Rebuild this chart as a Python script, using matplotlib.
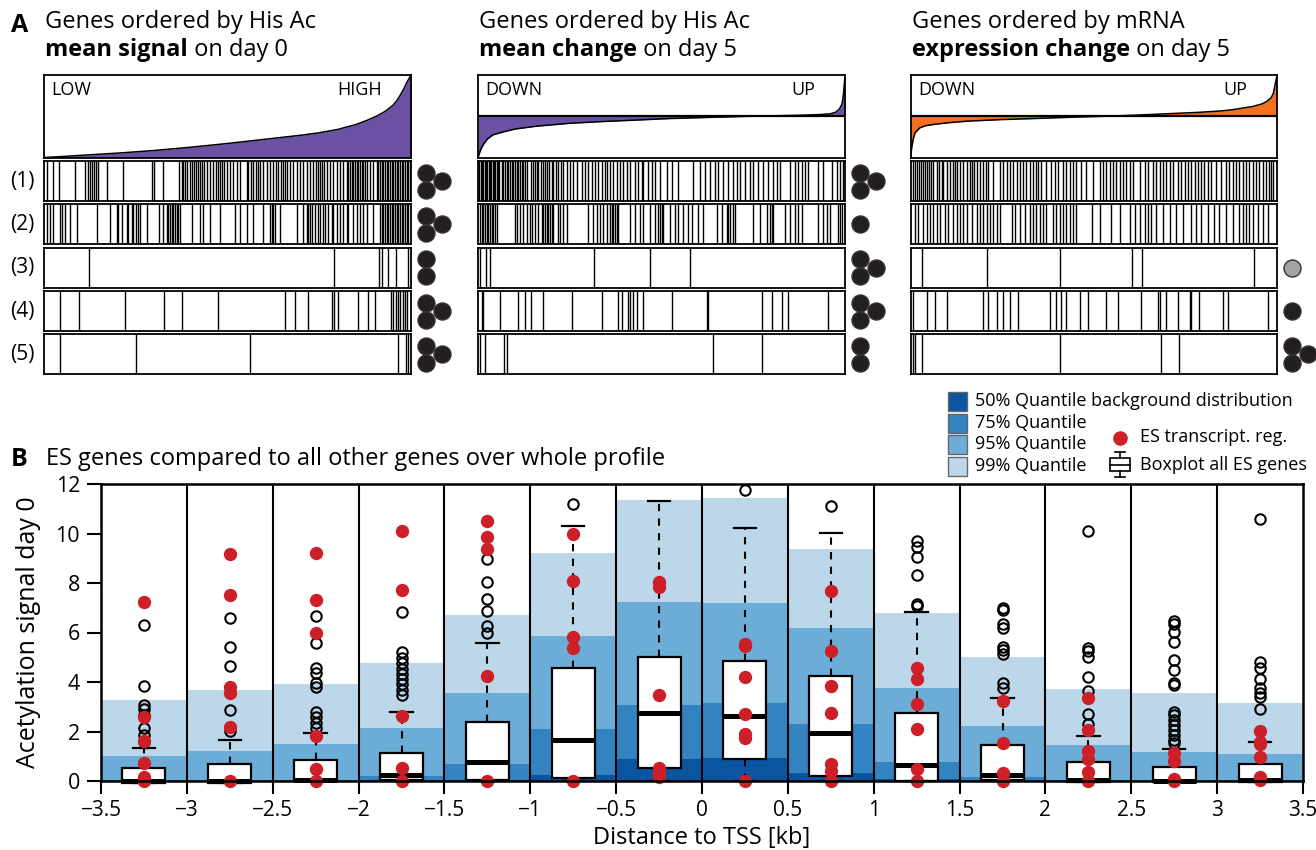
import matplotlib
matplotlib.use('Agg')
import matplotlib.pyplot as plt
from matplotlib.patches import Rectangle

W, H = 1316, 850
plt.rcParams['font.family'] = ['Open Sans', 'DejaVu Sans']

# ---------------- Panel A data ----------------
# sorted profile curves (t = rank fraction, v = normalised value)
sig_t = [0, 0.05, 0.1, 0.15, 0.2, 0.3, 0.4, 0.5, 0.6, 0.7, 0.75, 0.8, 0.85, 0.88, 0.91, 0.93, 0.95, 0.96, 0.97, 0.98, 0.99, 1.0]
sig_v = [0, 0.012, 0.026, 0.04, 0.053, 0.085, 0.125, 0.17, 0.22, 0.27, 0.30, 0.34, 0.4, 0.45, 0.51, 0.56, 0.63, 0.68, 0.75, 0.83, 0.92, 1.0]
chg_t = [0, 0.003, 0.007, 0.014, 0.025, 0.04, 0.068, 0.1, 0.159, 0.25, 0.34, 0.45, 0.52, 0.62, 0.72, 0.8, 0.88, 0.93, 0.96, 0.975, 0.985, 0.992, 0.996, 1.0]
chg_v = [-0.98, -0.9, -0.8, -0.68, -0.55, -0.45, -0.38, -0.31, -0.24, -0.17, -0.128, -0.085, -0.056, -0.03, -0.005, 0.01, 0.025, 0.04, 0.06, 0.1, 0.18, 0.3, 0.55, 0.98]
mrna_t = [0, 0.003, 0.007, 0.012, 0.025, 0.04, 0.062, 0.1, 0.153, 0.25, 0.335, 0.45, 0.55, 0.608, 0.7, 0.79, 0.85, 0.88, 0.936, 0.96, 0.973, 0.985, 0.991, 1.0]
mrna_v = [-0.98, -0.75, -0.55, -0.4, -0.28, -0.23, -0.2, -0.16, -0.12, -0.08, -0.056, -0.02, 0.005, 0.024, 0.06, 0.096, 0.13, 0.16, 0.24, 0.3, 0.36, 0.45, 0.56, 0.96]

# gene-set hit positions (rank out of 1100) for rows (1)-(5) in each ordering
hits_signal = [
    [7, 27, 44, 92, 122, 132, 137, 142, 149, 155, 162, 187, 237, 322, 329, 357, 405, 412, 417, 423, 429, 437, 442, 449, 455, 462, 467, 473, 479, 487, 497, 507, 515, 522, 527, 532, 539, 547, 557, 567, 577, 587, 607, 612, 619, 627, 635, 642, 647, 657, 667, 677, 687, 695, 702, 709, 715, 722, 729, 737, 747, 757, 767, 777, 787, 797, 807, 815, 822, 827, 832, 839, 847, 857, 867, 877, 887, 897, 907, 912, 917, 922, 927, 932, 937, 942, 947, 952, 957, 962, 967, 977, 987, 997, 1002, 1007, 1012, 1017, 1022, 1027, 1032, 1037, 1042, 1047, 1052, 1057, 1062, 1067, 1072, 1077, 1082, 1087, 1092, 1097],
    [7, 17, 27, 47, 52, 62, 77, 97, 157, 197, 217, 222, 232, 247, 252, 262, 267, 275, 282, 287, 307, 345, 357, 367, 372, 377, 382, 387, 392, 397, 402, 407, 442, 467, 477, 497, 527, 572, 587, 607, 627, 657, 677, 682, 687, 692, 707, 757, 777, 787, 792, 797, 802, 812, 822, 827, 837, 842, 852, 862, 867, 877, 887, 897, 907, 912, 927, 937, 947, 957, 967, 987, 1007, 1012, 1017, 1022, 1027, 1032, 1037, 1042, 1047, 1052, 1057, 1062, 1067, 1072, 1077, 1082, 1087, 1092],
    [135, 870, 1005, 1012, 1032, 1055, 1092],
    [47, 104, 243, 360, 412, 520, 722, 752, 792, 862, 870, 882, 942, 970, 992, 1039, 1047, 1055, 1062, 1067, 1075, 1082, 1089],
    [47, 275, 617, 1062, 1085, 1092],
]
hits_change = [
    [3, 7, 11, 15, 19, 23, 27, 31, 35, 39, 43, 47, 51, 55, 59, 63, 70, 75, 80, 85, 90, 95, 100, 105, 110, 115, 120, 125, 130, 135, 140, 145, 157, 163, 170, 175, 180, 187, 193, 200, 205, 213, 220, 225, 233, 240, 247, 255, 265, 275, 285, 295, 310, 320, 330, 340, 350, 360, 370, 380, 387, 395, 405, 415, 425, 435, 445, 455, 470, 480, 490, 495, 510, 520, 530, 545, 565, 580, 600, 645, 665, 680, 695, 710, 720, 735, 750, 765, 775, 785, 800, 815, 825, 840, 855, 870, 885, 895, 905, 935, 950, 960, 970, 980, 990, 1020, 1035, 1060, 1075, 1085, 1095],
    [5, 10, 15, 20, 25, 30, 35, 40, 45, 50, 55, 110, 115, 125, 135, 145, 155, 160, 170, 180, 190, 195, 200, 205, 210, 215, 220, 225, 240, 245, 255, 265, 330, 345, 355, 365, 375, 385, 395, 400, 405, 410, 415, 420, 455, 470, 485, 495, 515, 530, 540, 545, 550, 555, 575, 590, 600, 615, 630, 640, 660, 675, 715, 730, 745, 750, 755, 765, 770, 825, 845, 865, 875, 880, 885, 920, 935, 950, 960, 970, 1020, 1035, 1045, 1055, 1080, 1085, 1090],
    [5, 23, 35, 348, 516, 636],
    [10, 15, 65, 120, 140, 157, 195, 280, 370, 420, 430, 450, 455, 465, 475, 495, 580, 685, 688, 850, 880, 910, 930, 1050],
    [5, 20, 78, 85, 705, 852],
]
hits_mrna = [
    [6, 12, 18, 24, 30, 36, 42, 48, 54, 60, 68, 78, 86, 93, 98, 108, 118, 128, 133, 138, 148, 158, 168, 178, 183, 190, 198, 208, 218, 226, 233, 248, 268, 278, 288, 298, 308, 318, 328, 338, 348, 358, 368, 376, 383, 393, 408, 423, 433, 443, 458, 468, 478, 488, 498, 513, 528, 548, 568, 578, 588, 598, 608, 618, 628, 638, 648, 658, 668, 688, 703, 713, 728, 738, 748, 758, 768, 778, 788, 803, 813, 823, 833, 843, 853, 863, 873, 883, 893, 903, 918, 933, 948, 958, 968, 978, 988, 998, 1008, 1018, 1028, 1038, 1048, 1058, 1068, 1076, 1083, 1090],
    [13, 23, 36, 48, 58, 68, 78, 88, 103, 113, 128, 138, 148, 158, 168, 183, 198, 208, 218, 228, 238, 248, 258, 268, 303, 313, 328, 343, 358, 368, 378, 388, 398, 408, 428, 438, 448, 458, 468, 478, 488, 498, 546, 568, 603, 628, 658, 673, 688, 703, 713, 723, 738, 758, 778, 798, 818, 843, 858, 873, 893, 913, 928, 948, 968, 988, 998, 1008, 1018, 1028, 1043, 1058, 1073],
    [33, 230, 448, 666, 696, 1031],
    [6, 50, 73, 108, 218, 233, 258, 278, 298, 323, 418, 438, 453, 468, 508, 533, 586, 623, 693, 743, 748, 768, 803, 838, 843, 866, 938, 953, 1073],
    [6, 13, 33, 448, 751, 806],
]
# significance dots per row (count); grey marks a weaker result
dots_signal = [3, 3, 2, 3, 3]
dots_change = [3, 1, 3, 3, 2]
dots_mrna = [0, 0, 1, 1, 3]
dots_mrna_grey = [False, False, True, False, False]
row_labels = ['(1)', '(2)', '(3)', '(4)', '(5)']

# ---------------- Panel B data ----------------
bin_centers = [-3.25, -2.75, -2.25, -1.75, -1.25, -0.75, -0.25, 0.25, 0.75, 1.25, 1.75, 2.25, 2.75, 3.25]
bg_q50 = [0.0, 0.0, 0.0, 0.03, 0.03, 0.24, 0.88, 0.94, 0.34, 0.1, 0.03, 0.0, 0.0, 0.0]
bg_q75 = [0.05, 0.05, 0.05, 0.2, 0.67, 2.1, 3.07, 3.14, 2.29, 0.78, 0.18, 0.05, 0.05, 0.05]
bg_q95 = [1.01, 1.21, 1.5, 2.13, 3.57, 5.87, 7.25, 7.2, 6.17, 3.74, 2.22, 1.45, 1.16, 1.1]
bg_q99 = [3.27, 3.68, 3.9, 4.78, 6.71, 9.22, 11.35, 11.45, 9.37, 6.8, 5.02, 3.72, 3.54, 3.16]

es_q1 = [-0.07, -0.07, 0.0, 0.05, 0.04, 0.13, 0.54, 0.9, 0.2, 0.0, 0.04, -0.05, -0.05, -0.05]
es_med = [0.0, 0.0, 0.05, 0.24, 0.76, 1.66, 2.73, 2.63, 1.93, 0.65, 0.24, 0.05, 0.0, 0.03]
es_q3 = [0.53, 0.69, 0.85, 1.15, 2.37, 4.55, 5.02, 4.86, 4.23, 2.76, 1.45, 0.78, 0.55, 0.67]
es_whishi = [1.32, 1.66, 1.95, 2.8, 5.59, 10.32, 11.33, 10.24, 10.03, 6.82, 3.37, 1.83, 1.29, 1.59]
es_whislo = [-0.07, -0.07, 0.0, 0.0, 0.0, 0.0, 0.0, 0.0, 0.0, 0.0, 0.0, -0.05, -0.05, -0.05]
es_outliers = [
    [6.3, 3.84, 3.06, 2.9, 2.67, 2.13, 1.86, 1.59],
    [6.57, 5.4, 4.65, 2.87, 2.02],
    [6.67, 5.59, 4.55, 4.35, 3.97, 3.78, 2.8, 2.6, 2.33, 2.13],
    [6.82, 5.2, 4.96, 4.75, 4.53, 4.31, 4.12, 3.9, 3.68, 3.47],
    [8.96, 8.03, 7.35, 6.87, 6.28, 6.0],
    [11.18],
    [],
    [11.76],
    [11.11],
    [9.7, 9.47, 9.06, 8.32, 7.14, 7.07],
    [7.0, 6.91, 6.33, 6.2, 5.43, 5.29, 5.12, 3.95, 3.77],
    [10.1, 5.36, 5.25, 5.02, 4.19, 3.65, 2.69, 2.29],
    [6.48, 6.34, 6.03, 5.63, 4.89, 4.48, 3.95, 3.88, 2.8, 2.67, 2.46, 2.26, 2.06, 1.86, 1.66, 1.52],
    [10.59, 4.82, 4.58, 4.12, 3.74, 3.54, 3.41, 2.9],
]
es_treg = [
    [7.25, 2.57, 1.62, 0.71, 0.17, 0.0],
    [9.17, 7.52, 3.81, 3.54, 2.2, 0.0],
    [9.2, 7.31, 6.0, 1.82, 0.47, 0.0],
    [10.11, 7.72, 2.64, 0.51, 0.0],
    [10.5, 9.87, 9.37, 4.24, 0.0],
    [9.98, 8.08, 5.8, 5.36, 0.0],
    [8.05, 7.85, 3.47, 0.54, 0.31, 0.17],
    [5.52, 5.45, 4.22, 2.69, 1.89, 1.72, 0.0],
    [7.69, 5.27, 3.82, 2.76, 0.7, 0.42, 0.0],
    [4.55, 4.12, 3.12, 2.1, 0.48, 0.0],
    [3.23, 1.52, 0.34, 0.0],
    [3.34, 2.06, 1.21, 0.88, 0.38, 0.0],
    [1.12, 0.81, 0.07, 0.0],
    [2.02, 1.59, 1.48, 0.98, 0.15, 0.04],
]
x_ticks = [-3.5, -3, -2.5, -2, -1.5, -1, -0.5, 0, 0.5, 1, 1.5, 2, 2.5, 3, 3.5]
y_ticks = [0, 2, 4, 6, 8, 10, 12]
legend_labels = ['50% Quantile background distribution', '75% Quantile', '95% Quantile', '99% Quantile']

# ---------------- styles ----------------
PURPLE = '#6a51a3'
ORANGE = '#f36f21'
C50, C75, C95, C99 = '#0b55a0', '#3283c0', '#6badd6', '#bdd7ea'
RED = '#cc1f27'
DOT = '#231f20'

fig = plt.figure(figsize=(W / 100, H / 100), dpi=100)


def px_axes(x0, y0, x1, y1, **kw):
    return fig.add_axes([x0 / W, 1 - y1 / H, (x1 - x0) / W, (y1 - y0) / H], **kw)


ov = fig.add_axes([0, 0, 1, 1], zorder=10)
ov.set_xlim(0, W)
ov.set_ylim(H, 0)
ov.axis('off')
ov.patch.set_visible(False)

# ---------------- Panel A ----------------
panels = [
    dict(x0=44.3, x1=411.0, t=sig_t, v=sig_v, col=PURPLE, ylim=(0, 1), zero=False,
         lab=('LOW', 'HIGH'), hits=hits_signal, dots=dots_signal, grey=[False] * 5,
         t1='Genes ordered by His Ac', t2b='mean signal', t2n=' on day 0'),
    dict(x0=478.3, x1=845.0, t=chg_t, v=chg_v, col=PURPLE, ylim=(-1, 1), zero=True,
         lab=('DOWN', 'UP'), hits=hits_change, dots=dots_change, grey=[False] * 5,
         t1='Genes ordered by His Ac', t2b='mean change', t2n=' on day 5'),
    dict(x0=910.7, x1=1276.7, t=mrna_t, v=mrna_v, col=ORANGE, ylim=(-1, 1), zero=True,
         lab=('DOWN', 'UP'), hits=hits_mrna, dots=dots_mrna, grey=dots_mrna_grey,
         t1='Genes ordered by mRNA', t2b='expression change', t2n=' on day 5'),
]
rows_y = [(161, 201), (204.3, 244.3), (247.7, 287.7), (291, 331), (334.3, 374.3)]
TFS = 17

for p in panels:
    ac = px_axes(p['x0'], 75, p['x1'], 157.5)
    ac.fill_between(p['t'], 0, p['v'], color=p['col'], lw=0)
    ac.plot(p['t'], p['v'], color='k', lw=1.1)
    if p['zero']:
        ac.axhline(0, color='k', lw=1.6)
    ac.set_xlim(0, 1)
    ac.set_ylim(*p['ylim'])
    ac.set_xticks([]); ac.set_yticks([])
    for s in ac.spines.values():
        s.set_linewidth(1.3)
    ac.text(0.02, 0.93, p['lab'][0], transform=ac.transAxes, ha='left', va='top', fontsize=13)
    ac.text(0.92, 0.93, p['lab'][1], transform=ac.transAxes, ha='right', va='top', fontsize=13)

    ov.text(p['x0'] + 1, 22, p['t1'], fontsize=TFS, va='center', ha='left')
    tb = ov.text(p['x0'] + 1, 50, p['t2b'], fontsize=TFS, va='center', ha='left', weight='bold')
    ov.annotate(p['t2n'], xy=(1, 0), xycoords=tb, va='bottom', ha='left', fontsize=TFS)

    for i, (ya, yb) in enumerate(rows_y):
        ab = px_axes(p['x0'], ya, p['x1'], yb)
        ab.vlines(p['hits'][i], 0, 1, color='k', lw=1.0)
        ab.set_xlim(0, 1100)
        ab.set_ylim(0, 1)
        ab.set_xticks([]); ab.set_yticks([])
        for s in ab.spines.values():
            s.set_linewidth(1.3)
        c = (ya + yb) / 2
        n = p['dots'][i]
        xl, xr = p['x1'] + 15, p['x1'] + 31
        if n == 1:
            pts = [(xl, c)]
        elif n == 2:
            pts = [(xl, c - 8.5), (xl, c + 8.5)]
        elif n == 3:
            pts = [(xl, c - 8.5), (xl, c + 8.5), (xr, c)]
        else:
            pts = []
        if pts:
            fc = '#a3a3a3' if p['grey'][i] else DOT
            ov.scatter([q[0] for q in pts], [q[1] for q in pts], s=150, color=fc,
                       edgecolor='#333333', linewidth=1.0)

for i, (ya, yb) in enumerate(rows_y):
    ov.text(22, (ya + yb) / 2, row_labels[i], fontsize=15, ha='center', va='center')

ov.text(11, 25, 'A', fontsize=18, weight='bold', ha='left', va='center')

# ---------------- Panel B ----------------
ov.text(11, 459, 'B', fontsize=18, weight='bold', ha='left', va='center')
ov.text(46, 459, 'ES genes compared to all other genes over whole profile', fontsize=17, ha='left', va='center')

ax = px_axes(101, 484, 1303, 781)
ax.bar(bin_centers, bg_q99, width=0.5, color=C99, zorder=1, lw=0)
ax.bar(bin_centers, bg_q95, width=0.5, color=C95, zorder=1, lw=0)
ax.bar(bin_centers, bg_q75, width=0.5, color=C75, zorder=1, lw=0)
ax.bar(bin_centers, bg_q50, width=0.5, color=C50, zorder=1, lw=0)
for xv in x_ticks[1:-1]:
    ax.axvline(xv, color='k', lw=1.5, zorder=2)

stats = []
for i in range(len(bin_centers)):
    stats.append(dict(med=es_med[i], q1=es_q1[i], q3=es_q3[i], whislo=es_whislo[i],
                      whishi=es_whishi[i], fliers=es_outliers[i]))
bp = ax.bxp(stats, positions=bin_centers, widths=0.25, capwidths=0.13, patch_artist=True,
            manage_ticks=False, zorder=3,
            boxprops=dict(facecolor='white', edgecolor='k', linewidth=1.6),
            medianprops=dict(color='k', linewidth=3.6, solid_capstyle='butt'),
            whiskerprops=dict(color='k', linewidth=1.5, linestyle=(0, (3.5, 3.5))),
            capprops=dict(color='k', linewidth=1.6),
            flierprops=dict(marker='o', markerfacecolor='none', markeredgecolor='k',
                            markersize=7.5, markeredgewidth=1.5, linestyle='none'))
for key in bp:
    for art in bp[key]:
        art.set_clip_on(False)

for i, xc in enumerate(bin_centers):
    ax.scatter([xc] * len(es_treg[i]), es_treg[i], s=92, color=RED, zorder=5,
               clip_on=False, linewidths=0)

ax.set_xlim(-3.5, 3.5)
ax.set_ylim(0, 12)
ax.set_xticks(x_ticks)
ax.set_xticklabels([('\u2212' + f'{abs(v):g}') if v < 0 else f'{v:g}' for v in x_ticks])
ax.set_yticks(y_ticks)
ax.tick_params(axis='x', direction='out', length=9, width=1.5, labelsize=15, pad=5)
ax.tick_params(axis='y', direction='out', length=10, width=1.5, labelsize=15.5, pad=5)
for s in ax.spines.values():
    s.set_linewidth(1.8)
    s.set_zorder(6)
ax.set_xlabel('Distance to TSS [kb]', fontsize=17)
ax.xaxis.set_label_coords(0.5, -0.15)
ax.set_ylabel('Acetylation signal day 0', fontsize=18)
ax.yaxis.set_label_coords(-0.05, 0.5)

# ---------------- legend ----------------
leg_cols = [C50, C75, C95, C99]
leg_y = [401, 423, 444, 466]
for col, yy, lab in zip(leg_cols, leg_y, legend_labels):
    ov.add_patch(Rectangle((948, yy - 9.5), 19, 19, facecolor=col, edgecolor='#666666', lw=1.0))
    ov.text(975, yy, lab, fontsize=13, ha='left', va='center')
ov.scatter([1120], [438], s=110, color=RED, linewidths=0)
ov.text(1140, 437, 'ES transcript. reg.', fontsize=13, ha='left', va='center')
ov.add_patch(Rectangle((1110, 458), 20, 13, facecolor='white', edgecolor='k', lw=1.2))
ov.plot([1110, 1130], [464.5, 464.5], color='k', lw=1.2)
ov.plot([1120, 1120], [452, 458], color='k', lw=1.2)
ov.plot([1120, 1120], [471, 477], color='k', lw=1.2)
ov.plot([1115, 1125], [452, 452], color='k', lw=1.2)
ov.plot([1115, 1125], [477, 477], color='k', lw=1.2)
ov.text(1140, 465, 'Boxplot all ES genes', fontsize=13, ha='left', va='center')

fig.savefig('out.png', dpi=100)
